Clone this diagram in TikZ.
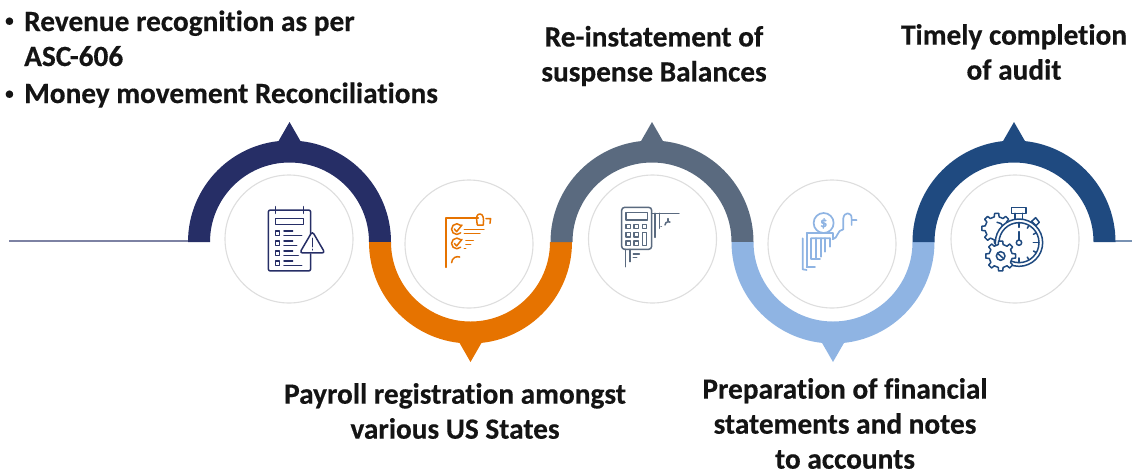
\documentclass[tikz,border=0pt]{standalone}
\usepackage{fontspec}
\setmainfont[RawFeature={-liga;-clig;-dlig},BoldFeatures={FakeBold=0.4}]{Carlito}
\definecolor{cnavy}{HTML}{262E66}
\definecolor{corange}{HTML}{E67300}
\definecolor{cslate}{HTML}{5A6A7F}
\definecolor{clight}{HTML}{8FB4E3}
\definecolor{cblue}{HTML}{1F4A80}
\definecolor{cring}{HTML}{DEDEDE}
\tikzset{
  lab/.style={font=\fontsize{29.3}{35}\selectfont\bfseries,align=center,inner sep=0pt,text=black!92},
  labl/.style={font=\fontsize{29.3}{35}\selectfont\bfseries,align=left,inner sep=0pt,anchor=base west,text=black!92},
  bul/.style={font=\fontsize{17}{20}\selectfont\bfseries,inner sep=0pt,anchor=base west,text=black!92},
  halo/.style={draw=cring,line width=1.1pt,fill=white},
  ico/.style={line width=1.5pt,line cap=round,line join=round},
}
\newcommand{\upring}[2]{\fill[#2] (#1-101.5,242) arc[start angle=180,end angle=360,radius=101.5] -- (#1+79.5,242) arc[start angle=360,end angle=180,radius=79.5] -- cycle;
 \fill[#2] (#1-11.5,142) -- (#1,122) -- (#1+11.5,142) -- cycle;}
\newcommand{\downring}[2]{\fill[#2] (#1-101.5,242) arc[start angle=180,end angle=0,radius=101.5] -- (#1+79.5,242) arc[start angle=0,end angle=180,radius=79.5] -- cycle;
 \fill[#2] (#1-11.5,342) -- (#1,362) -- (#1+11.5,342) -- cycle;}
\newcommand{\gearshape}[3]{% cx cy radius
 \draw[fill=white] ({#1+#3*0.78*cos(-12)},{#2+#3*0.78*sin(-12)})
  \foreach \a in {0,45,...,315}{
   -- ({#1+#3*0.78*cos(\a-12)},{#2+#3*0.78*sin(\a-12)})
   -- ({#1+#3*cos(\a-8)},{#2+#3*sin(\a-8)})
   -- ({#1+#3*cos(\a+8)},{#2+#3*sin(\a+8)})
   -- ({#1+#3*0.78*cos(\a+12)},{#2+#3*0.78*sin(\a+12)})
  } -- cycle;}
\begin{document}
\begin{tikzpicture}[x=1pt,y=-1pt]
\useasboundingbox (0,0) rectangle (1132,472);
\coordinate (ls) at (9,241); \coordinate (le) at (188,241);
\coordinate (rs) at (1115,241); \coordinate (re) at (1132,241);
\draw[line width=1.4pt,color=cnavy!60] (ls) -- (le);
\draw[line width=1.4pt,color=cblue!60] (rs) -- (re);
\upring{289.5}{cnavy}
\downring{470.5}{corange}
\upring{652}{cslate}
\downring{833}{clight}
\upring{1014}{cblue}
\node[halo,circle,minimum size=128pt,inner sep=0pt] (h1) at (289,239) {};
\node[halo,circle,minimum size=128pt,inner sep=0pt] (h2) at (469,244) {};
\node[halo,circle,minimum size=128pt,inner sep=0pt] (h3) at (652.5,239) {};
\node[halo,circle,minimum size=128pt,inner sep=0pt] (h4) at (832,244) {};
\node[halo,circle,minimum size=128pt,inner sep=0pt] (h5) at (1015,239) {};
% icon 1
\begin{scope}[shift={(220,180)},x=0.3333pt,y=-0.3333pt,ico,cnavy]
 \draw[rounded corners=2pt] (272,165) -- (272,90) -- (145,90) -- (145,273) -- (272,273) -- (272,222);
 \draw (167,80) -- (167,100) (250,80) -- (250,100);
 \draw (166,115) rectangle (250,134);
 \foreach \yy/\la/\lb in {153/218/245,183/218/230,213/218/235,243/218/245}{
  \draw (166,\yy) rectangle (179,\yy+13);
  \draw (192,\yy) -- (\la,\yy) (192,\yy+13) -- (\lb,\yy+13);
 }
 \draw[rounded corners=3pt,fill=white] (277,154) -- (315,219) -- (239,219) -- cycle;
 \draw (277,175) -- (277,200) (277,208) -- (277,210);
\end{scope}
% icon 2
\begin{scope}[shift={(220,180)},x=0.3333pt,y=-0.3333pt,ico,corange]
 \draw (775,114) -- (678,114) -- (678,262);
 \draw (722,136) arc[start angle=-45,end angle=-315,radius=16];
 \draw (703,147) -- (710,155) -- (726,135);
 \draw (722,179) arc[start angle=-45,end angle=-315,radius=16];
 \draw (703,190) -- (710,198) -- (726,178);
 \draw (695,248) arc[start angle=180,end angle=290,radius=18];
 \draw (733,148) -- (792,148) (733,160) -- (780,160);
 \draw (738,182) -- (760,182) (738,193) -- (752,193) (733,205) -- (737,205);
 \draw (772,135) .. controls (768,110) and (770,102) .. (780,102) .. controls (790,102) and (792,115) .. (790,135) -- (772,135);
 \draw (798,116) -- (812,116) -- (810,130);
\end{scope}
% icon 3
\begin{scope}[shift={(580,180)},x=0.3333pt,y=-0.3333pt,ico,cslate]
 \draw[rounded corners=3pt] (125,82) rectangle (215,208);
 \draw (138,97) rectangle (202,120);
 \foreach \xx in {138,162,187}{\draw (\xx,133) rectangle (\xx+13,146);}
 \foreach \xx in {138,162}{\draw (\xx,158) rectangle (\xx+13,171); \draw (\xx,183) rectangle (\xx+13,196);}
 \draw (187,158) rectangle (200,197);
 \draw (215,100) -- (297,100) (225,100) -- (225,172) (238,100) -- (238,145);
 \draw (137,208) -- (137,260) (150,208) -- (150,245) (160,222) -- (178,222) (160,232) -- (170,232);
 \draw (255,135) arc[start angle=180,end angle=300,radius=10];
 \draw (243,139) -- (244,139) (264,116) -- (264,122);
\end{scope}
% icon 4
\begin{scope}[shift={(580,180)},x=0.3333pt,y=-0.3333pt,ico,clight,line width=1.7pt]
 \draw (731,129) circle[radius=30];
 \node[inner sep=0pt,font=\fontsize{14}{14}\selectfont\bfseries,text=clight] (dl) at (731,130) {\$};
 \draw (680,160) -- (758,160) -- (758,175) (680,160) -- (680,262) (694,175) -- (694,238) -- (720,238);
 \draw (668,175) -- (668,268) -- (680,270) (694,175) -- (750,175);
 \draw (708,175) -- (708,236) (722,175) -- (722,230) (736,175) -- (736,215) (750,175) -- (750,200);
 \draw (680,262) -- (705,262);
 \draw (758,178) .. controls (775,175) and (770,150) .. (790,148) -- (790,115) .. controls (792,95) and (815,95) .. (815,115) -- (815,135) (818,120) -- (830,120);
\end{scope}
% icon 5
\begin{scope}[shift={(940,180)},x=0.3333pt,y=-0.3333pt,ico,cblue]
 \gearshape{170}{145}{45}
 \draw (190,140) arc[start angle=-20,end angle=-90,radius=20];
 \draw[fill=white] (237,188) circle[radius=71];
 \draw (215,83) rectangle (258,100);
 \draw (225,100) -- (225,117) (248,100) -- (248,117);
 \draw (275,124) -- (287,113) -- (298,127) -- (288,137) -- cycle;
 \draw (237,188) circle[radius=60];
 \draw (237,155) -- (237,180);
 \draw (237,188) circle[radius=8];
 \draw (237,128) -- (237,142) (297,188) -- (280,188) (237,248) -- (237,234);
 \foreach \t in {30,60,120,150,-30,-60}{\draw ({237+60*cos(\t)},{188+60*sin(\t)}) -- ({237+50*cos(\t)},{188+50*sin(\t)});}
 \gearshape{182}{228}{45}
 \draw (182,228) circle[radius=13];
 \draw (173,220) -- (191,236);
\end{scope}
% text
\node[bul] (b1) at (5,26) {•};
\node[labl] (t1a) at (24,31) {Revenue recognition as per};
\node[labl] (t1b) at (24,66) {ASC-606};
\node[bul] (b2) at (5,99) {•};
\node[labl] (t1c) at (24,103) {Money movement Reconciliations};
\node[lab] (t3) at (654,56) {Re-instatement of\\suspense Balances};
\node[lab] (t5) at (1014,52) {Timely completion\\of audit};
\node[lab] (t2) at (455,411) {Payroll registration amongst\\various US States};
\node[lab] (t4) at (845,423.5) {Preparation of financial\\statements and notes\\to accounts};
\end{tikzpicture}
\end{document}
